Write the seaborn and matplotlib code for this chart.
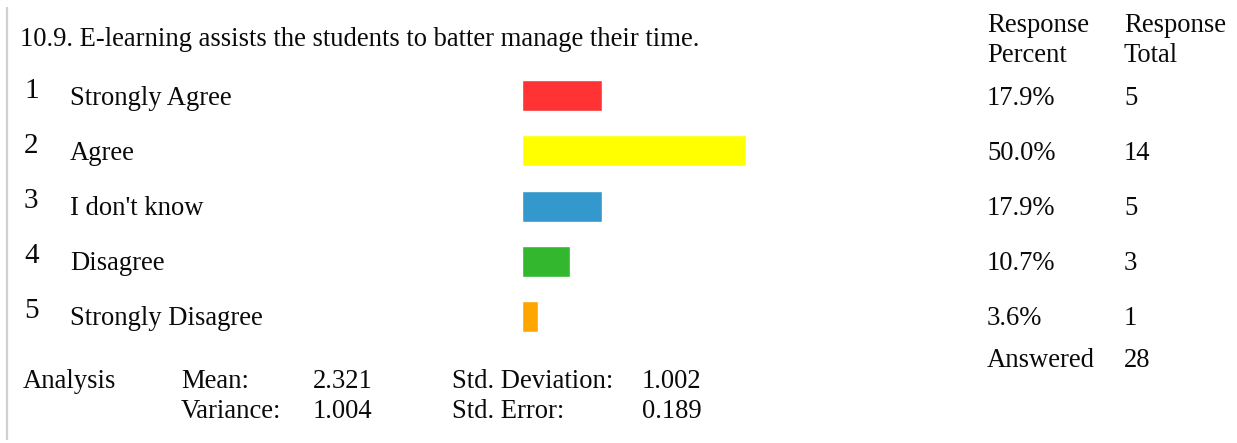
import matplotlib
matplotlib.use("Agg")
import matplotlib.pyplot as plt
import seaborn as sns
import pandas as pd

# Survey item 10.9 responses
question = "10.9. E-learning assists the students to batter manage their time."
codes = [1, 2, 3, 4, 5]
categories = ["Strongly Agree", "Agree", "I don't know", "Disagree", "Strongly Disagree"]
percents = [17.9, 50.0, 17.9, 10.7, 3.6]
totals = [5, 14, 5, 3, 1]
answered = 28
bar_colors = ["#ff3333", "#ffff00", "#3399cc", "#33b72e", "#ffa500"]

# Summary statistics
stat_mean = 2.321
stat_variance = 1.004
stat_std_dev = 1.002
stat_std_err = 0.189

sns.set_theme(style="white")
plt.rcParams["font.family"] = ["Liberation Serif", "DejaVu Serif"]

W, H = 1237, 443
fig = plt.figure(figsize=(W / 100, H / 100), dpi=100)
fig.patch.set_facecolor("white")

# Bar panel, placed in pixel terms: 0..100 % spans 448 px, rows 55.25 px apart
row_gap = 55.25
first_center = 95.5
y_top = first_center - row_gap / 2
y_bot = first_center + row_gap * (len(categories) - 0.5)
x_left, x_right = 522, 522 + 448
bar_ax = fig.add_axes([x_left / W, 1 - y_bot / H, (x_right - x_left) / W, (y_bot - y_top) / H])

df = pd.DataFrame({"label": categories, "percent": percents})
sns.barplot(data=df, y="label", x="percent", hue="label", palette=bar_colors,
            orient="h", width=31 / row_gap, legend=False, saturation=1.0, ax=bar_ax)
bar_ax.set_xlim(0, 100)
bar_ax.set_ylim(len(categories) - 0.5, -0.5)
bar_ax.axis("off")

# Text overlay in pixel coordinates
tx = fig.add_axes([0, 0, 1, 1], zorder=5)
tx.set_xlim(0, W)
tx.set_ylim(H, 0)
tx.axis("off")
tx.patch.set_alpha(0)

fs = 19.2
num_fs = 21
ink = "#0a0a0a"

# left rule
tx.plot([7, 7], [7, 440], color="#d0d0d0", lw=1.6, solid_capstyle="butt")

tx.text(20, 46, question, fontsize=fs, va="baseline", ha="left", color=ink)

tx.text(987, 31.7, "Response", fontsize=fs, va="baseline", color=ink)
tx.text(987, 61.7, "Percent", fontsize=fs, va="baseline", color=ink)
tx.text(1124, 31.7, "Response", fontsize=fs, va="baseline", color=ink)
tx.text(1124, 61.7, "Total", fontsize=fs, va="baseline", color=ink)

for i, (code, cat, p, t) in enumerate(zip(codes, categories, percents, totals)):
    base = 105 + 55 * i
    tx.text(24, base - 7, str(code), fontsize=num_fs, va="baseline", color=ink)
    tx.text(70, base, cat, fontsize=fs, va="baseline", color=ink)
    tx.text(987, base, f"{p:.1f}%", fontsize=fs, va="baseline", color=ink)
    tx.text(1124, base, str(t), fontsize=fs, va="baseline", color=ink)

tx.text(987, 366.7, "Answered", fontsize=fs, va="baseline", color=ink)
tx.text(1124, 366.7, str(answered), fontsize=fs, va="baseline", color=ink)

r1, r2 = 388.3, 418.3
tx.text(23, r1, "Analysis", fontsize=fs, va="baseline", color=ink)
tx.text(181, r1, "Mean:", fontsize=fs, va="baseline", color=ink)
tx.text(313, r1, f"{stat_mean:.3f}", fontsize=fs, va="baseline", color=ink)
tx.text(452, r1, "Std. Deviation:", fontsize=fs, va="baseline", color=ink)
tx.text(642, r1, f"{stat_std_dev:.3f}", fontsize=fs, va="baseline", color=ink)
tx.text(181, r2, "Variance:", fontsize=fs, va="baseline", color=ink)
tx.text(313, r2, f"{stat_variance:.3f}", fontsize=fs, va="baseline", color=ink)
tx.text(452, r2, "Std. Error:", fontsize=fs, va="baseline", color=ink)
tx.text(642, r2, f"{stat_std_err:.3f}", fontsize=fs, va="baseline", color=ink)

fig.savefig("out.png", dpi=100, facecolor="white")
